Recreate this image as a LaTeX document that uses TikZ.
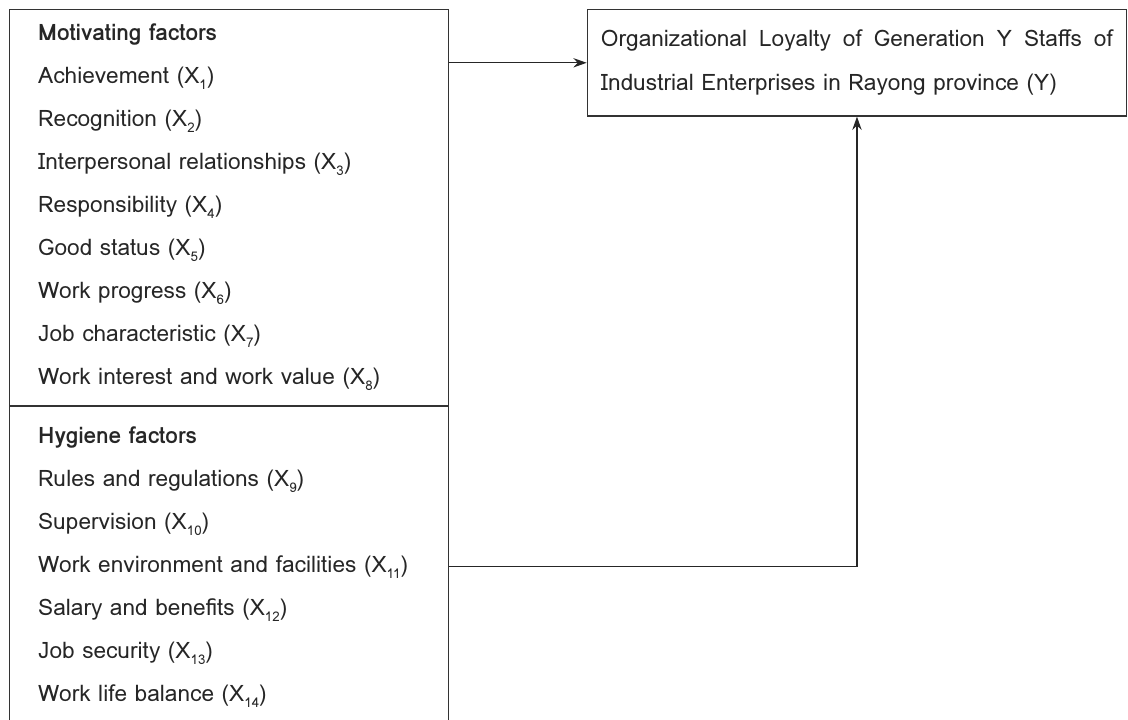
\documentclass[tikz,border=0pt]{standalone}
\usepackage{fontspec}
\setmainfont{Loma}
\usetikzlibrary{positioning,arrows.meta}
\newcommand{\subx}[1]{\raisebox{-0.5ex}{\fontsize{10pt}{10pt}\selectfont #1}}

\begin{document}
\begin{tikzpicture}[
    x=0.75pt, y=-0.75pt,
    every node/.style={draw=black!80, text=black!85, line width=0.9pt, rectangle, inner sep=0pt},
    factorbox/.style={minimum width=328.9pt, text width=286pt, align=left,
        font=\fontsize{17pt}{32.25pt}\selectfont},
    link/.style={-{Stealth[length=10pt,width=7pt]}, line width=0.9pt, draw=black!85}
]
\useasboundingbox (0,0) rectangle (1128,720);

% Motivating factors
\node[factorbox, minimum height=296.8pt, anchor=north west] (motiv) at (9,9)
{\textbf{Motivating factors}\\
Achievement (X\subx{1})\\
Recognition (X\subx{2})\\
Interpersonal relationships (X\subx{3})\\
Responsibility (X\subx{4})\\
Good status (X\subx{5})\\
Work progress (X\subx{6})\\
Job characteristic (X\subx{7})\\
Work interest and work value (X\subx{8})};

% Hygiene factors
\node[factorbox, minimum height=240.5pt, below=0pt of motiv] (hygiene)
{\textbf{Hygiene factors}\\
Rules and regulations (X\subx{9})\\
Supervision (X\subx{10})\\
Work environment and facilities (X\subx{11})\\
Salary and benefits (X\subx{12})\\
Job security (X\subx{13})\\
Work life balance (X\subx{14})};

% Organizational loyalty
\node[minimum width=404.5pt, minimum height=79.8pt, text width=384pt, align=justify,
      font=\fontsize{17pt}{33pt}\selectfont, anchor=north west] (loyalty) at (586.7,9)
{Organizational Loyalty of Generation Y Staffs of\linebreak
Industrial Enterprises in Rayong province (Y)};

% Arrows
\draw[link] (motiv.east |- loyalty.west) -- (loyalty.west);
\draw[link] (hygiene.east) -| (loyalty.south);

\end{tikzpicture}
\end{document}
